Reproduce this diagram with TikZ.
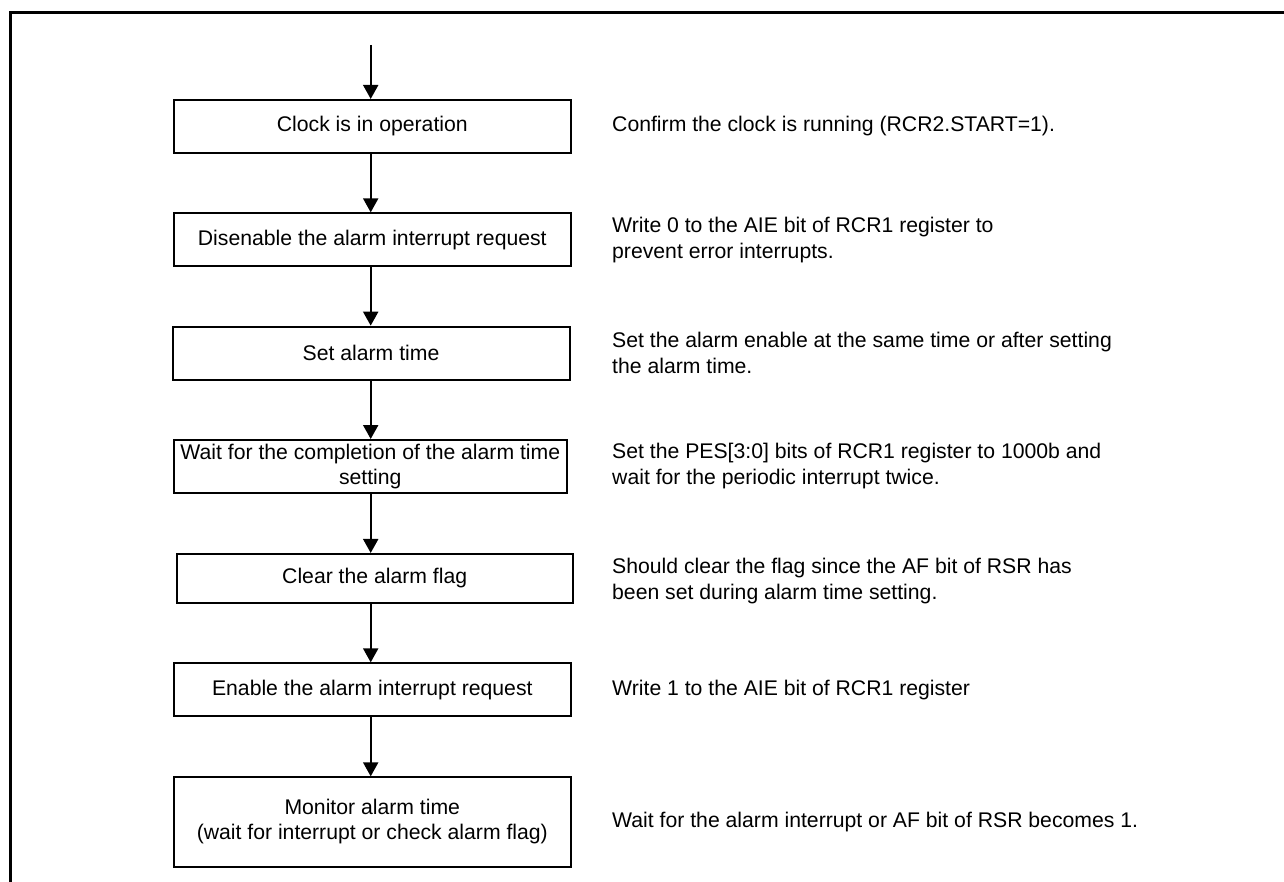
\documentclass[tikz,border=0pt]{standalone}
\usepackage{fontspec}
\setmainfont{Liberation Sans}
\usetikzlibrary{arrows.meta}
\begin{document}
\begin{tikzpicture}[x=1pt,y=-1pt,
  stepbox/.style={draw,line width=2pt,minimum width=397pt,minimum height=#1,
    inner sep=2pt,align=center,font=\fontsize{21.2}{25}\selectfont},
  note/.style={anchor=west,inner sep=0pt,align=left,font=\fontsize{21.2}{26}\selectfont},
  flow/.style={line width=2.1pt,-{Triangle[width=15pt,length=14pt]}},
  frame/.style={line width=3.2pt}]
\useasboundingbox (0,0) rectangle (1284,882);

% open frame: top and left edges only
\draw[frame] (10.5,882) -- (10.5,12.5) -- (1284,12.5);

% entry point of the flow
\coordinate (start) at (370.7,45);

% process steps
\node[stepbox=52.7pt] (b1) at (372.3,126.3) {Clock is in operation};
\node[stepbox=52.7pt] (b2) at (372.3,239.7) {Disenable the alarm interrupt request};
\node[stepbox=53.3pt] (b3) at (371,353.3) {Set alarm time};
\node[stepbox=53pt, minimum width=393pt] (b4) at (370.3,466.5)
  {Wait for the completion of the alarm time\\setting};
\node[stepbox=48.7pt, minimum width=396pt] (b5) at (374.7,578.3) {Clear the alarm flag};
\node[stepbox=52.7pt] (b6) at (372.3,689.7) {Enable the alarm interrupt request};
\node[stepbox=89.3pt] (b7) at (372.3,822)
  {Monitor alarm time\\(wait for interrupt or check alarm flag)};

% connectors
\draw[flow] (start) -- (start |- b1.north);
\draw[flow] (b1.south -| start) -- (start |- b2.north);
\draw[flow] (b2.south -| start) -- (start |- b3.north);
\draw[flow] (b3.south -| start) -- (start |- b4.north);
\draw[flow] (b4.south -| start) -- (start |- b5.north);
\draw[flow] (b5.south -| start) -- (start |- b6.north);
\draw[flow] (b6.south -| start) -- (start |- b7.north);

% explanatory notes
\node[note] (n1) at (612,126.3) {Confirm the clock is running (RCR2.START=1).};
\node[note] (n2) at (612,240) {Write 0 to the AIE bit of RCR1 register to\\prevent error interrupts.};
\node[note] (n3) at (612,353) {Set the alarm enable at the same time or after setting\\the alarm time.};
\node[note] (n4) at (612,466.3) {Set the PES[3:0] bits of RCR1 register to 1000b and\\wait for the periodic interrupt twice.};
\node[note] (n5) at (612,581) {Should clear the flag since the AF bit of RSR has\\been set during alarm time setting.};
\node[note] (n6) at (612,689.7) {Write 1 to the AIE bit of RCR1 register};
\node[note] (n7) at (612,822) {Wait for the alarm interrupt or AF bit of RSR becomes 1.};
\end{tikzpicture}
\end{document}
